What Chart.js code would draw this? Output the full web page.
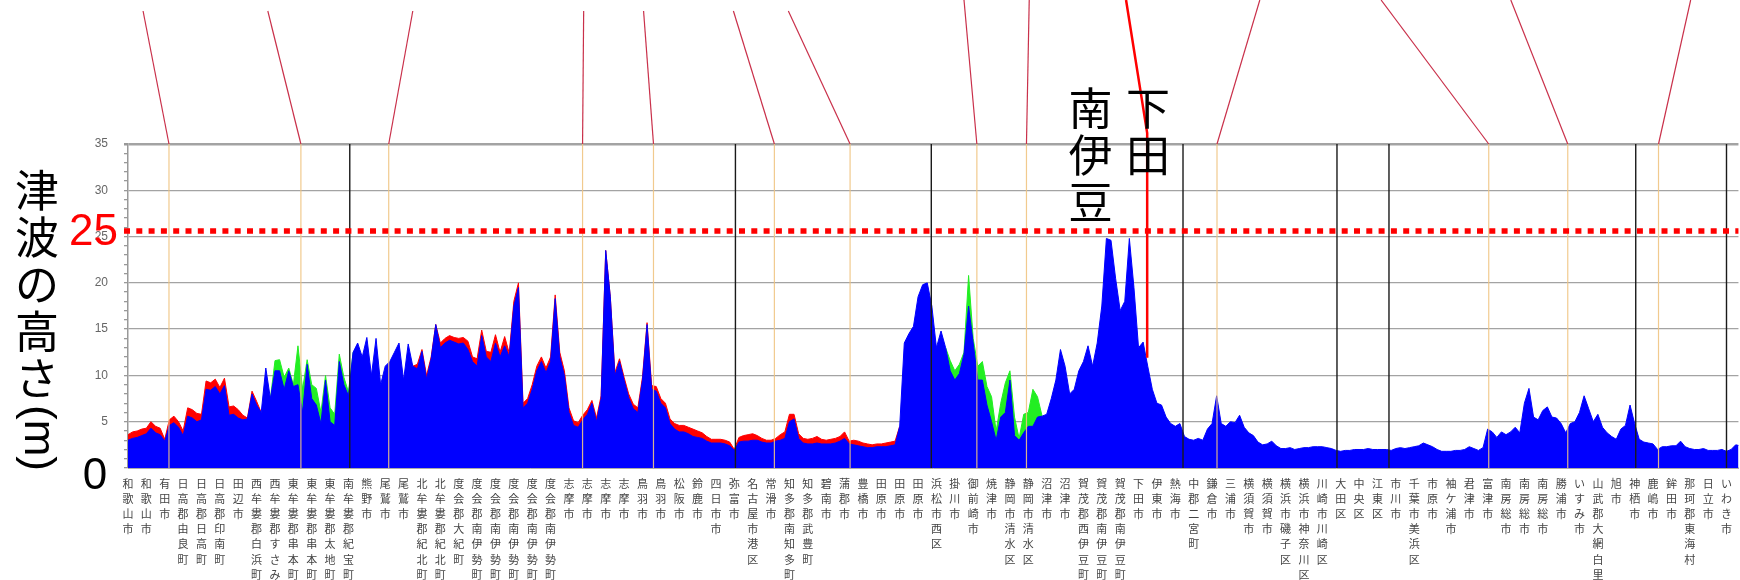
<!DOCTYPE html>
<html>
<head>
<meta charset="utf-8">
<script src="https://cdn.jsdelivr.net/npm/chart.js@4.4.1/dist/chart.umd.min.js"></script>
<style>
  html, body { margin: 0; padding: 0; background: #fff; overflow: hidden; }
  #wrap { position: relative; width: 1740px; height: 580px; }
</style>
</head>
<body>
<div id="wrap"><canvas id="chart"></canvas></div>
<script>
// place names along the coast, one tick each
var placeNames = [
  '和歌山市', '和歌山市', '有田市', '日高郡由良町', '日高郡日高町', '日高郡印南町', '田辺市',
  '西牟婁郡白浜町', '西牟婁郡すさみ町', '東牟婁郡串本町', '東牟婁郡串本町', '東牟婁郡太地町',
  '南牟婁郡紀宝町', '熊野市', '尾鷲市', '尾鷲市', '北牟婁郡紀北町', '北牟婁郡紀北町', '度会郡大紀町',
  '度会郡南伊勢町', '度会郡南伊勢町', '度会郡南伊勢町', '度会郡南伊勢町', '度会郡南伊勢町',
  '志摩市', '志摩市', '志摩市', '志摩市', '鳥羽市', '鳥羽市', '松阪市', '鈴鹿市', '四日市市', '弥富市',
  '名古屋市港区', '常滑市', '知多郡南知多町', '知多郡武豊町', '碧南市', '蒲郡市', '豊橋市',
  '田原市', '田原市', '田原市', '浜松市西区', '掛川市', '御前崎市', '焼津市', '静岡市清水区',
  '静岡市清水区', '沼津市', '沼津市', '賀茂郡西伊豆町', '賀茂郡南伊豆町', '賀茂郡南伊豆町',
  '下田市', '伊東市', '熱海市', '中郡二宮町', '鎌倉市', '三浦市', '横須賀市', '横須賀市',
  '横浜市磯子区', '横浜市神奈川区', '川崎市川崎区', '大田区', '中央区', '江東区', '市川市',
  '千葉市美浜区', '市原市', '袖ケ浦市', '君津市', '富津市', '南房総市', '南房総市', '南房総市',
  '勝浦市', 'いすみ市', '山武郡大網白里町', '旭市', '神栖市', '鹿嶋市', '鉾田市', '那珂郡東海村',
  '日立市', 'いわき市'
];

var samplesPerPlace = 4;

// tsunami height (m), 4 readings per place interval
var blueHeights = [
  3.0, 3.2, 3.3, 3.5, 3.7, 4.3, 3.8, 3.6, 2.9, 4.6,
  4.9, 4.4, 3.5, 5.6, 5.4, 5.0, 5.2, 8.5, 8.4, 8.8,
  8.0, 8.9, 5.7, 5.8, 5.4, 5.2, 5.3, 8.0, 6.8, 6.0,
  10.8, 7.5, 10.5, 10.5, 8.5, 10.5, 8.8, 9.0, 6.0, 11.2,
  7.5, 6.8, 4.8, 9.5, 5.0, 4.6, 11.5, 9.0, 7.8, 12.5,
  13.5, 12.0, 14.1, 10.0, 14.0, 9.0, 11.0, 11.5, 12.5, 13.5,
  9.5, 13.4, 11.0, 10.7, 12.6, 9.6, 11.8, 15.5, 13.0, 13.5,
  13.8, 13.6, 13.4, 13.5, 12.8, 11.5, 11.0, 14.3, 12.0, 11.5,
  13.5, 12.0, 13.2, 12.0, 17.5, 19.5, 6.5, 7.0, 8.5, 10.5,
  11.5, 10.3, 11.5, 18.3, 12.0, 10.0, 6.0, 4.6, 4.4, 5.2,
  5.8, 7.0, 5.0, 7.5, 23.5, 18.5, 10.0, 11.5, 9.5, 7.6,
  6.4, 6.0, 9.5, 15.5, 8.5, 8.3, 7.0, 6.5, 4.8, 4.2,
  3.9, 3.9, 3.7, 3.4, 3.3, 3.2, 2.9, 2.7, 2.7, 2.7,
  2.6, 2.4, 1.9, 2.8, 2.9, 2.9, 3.0, 3.0, 2.8, 2.7,
  2.7, 2.9, 3.0, 3.2, 5.0, 5.3, 3.2, 2.7, 2.6, 2.6,
  2.7, 2.6, 2.6, 2.6, 2.7, 2.9, 3.2, 2.6, 2.5, 2.4,
  2.3, 2.2, 2.2, 2.3, 2.3, 2.3, 2.4, 2.5, 4.5, 13.5,
  14.5, 15.3, 18.5, 19.8, 20.0, 17.5, 13.0, 14.8, 13.0, 10.5,
  9.5, 10.2, 12.3, 17.5, 13.5, 9.5, 9.5, 6.8, 5.0, 3.0,
  5.5, 6.0, 9.5, 3.5, 3.0, 3.8, 4.5, 4.5, 5.5, 5.6,
  5.8, 7.5, 9.5, 12.8, 11.0, 8.0, 8.5, 10.5, 11.5, 13.2,
  11.0, 13.5, 17.5, 24.8, 24.6, 20.5, 17.0, 18.0, 24.8, 19.5,
  13.0, 13.6, 11.0, 8.5, 7.0, 6.8, 5.5, 4.8, 4.5, 4.8,
  3.4, 3.1, 3.0, 3.2, 3.0, 4.2, 4.8, 7.8, 4.8, 4.5,
  5.0, 4.9, 5.7, 4.4, 3.8, 3.5, 2.8, 2.5, 2.6, 2.9,
  2.4, 2.1, 2.1, 2.2, 2.0, 2.1, 2.2, 2.2, 2.3, 2.3,
  2.3, 2.2, 2.1, 1.9, 1.8, 1.9, 1.9, 2.0, 2.0, 2.0,
  2.1, 2.0, 2.0, 2.0, 2.0, 1.9, 2.1, 2.2, 2.1, 2.2,
  2.3, 2.4, 2.7, 2.5, 2.3, 2.0, 1.8, 1.8, 1.8, 1.9,
  1.9, 2.0, 2.3, 2.1, 1.9, 2.2, 4.2, 3.9, 3.3, 3.9,
  3.6, 3.9, 4.4, 3.8, 7.0, 8.6, 5.5, 5.2, 6.2, 6.6,
  5.5, 5.4, 4.8, 3.8, 4.8, 5.0, 6.0, 7.8, 6.4, 5.0,
  5.8, 4.4, 3.8, 3.4, 3.1, 4.2, 4.6, 6.8, 4.8, 3.1,
  2.8, 2.7, 2.6, 2.0, 2.3, 2.3, 2.4, 2.4, 2.9, 2.3,
  2.1, 2.0, 2.0, 2.1, 1.9, 1.9, 1.9, 2.0, 1.8, 2.0,
  2.5, 2.4
];

// red series, only where it shows above the blue one
var redStartA = 0;
var redHeightsA = [
  3.6, 3.9, 4.0, 4.2, 4.3, 5.0, 4.5, 4.3, 3.1, 5.2,
  5.6, 5.0, 4.0, 6.5, 6.3, 5.9, 5.8, 9.4, 9.2, 9.6,
  8.7, 9.7, 6.6, 6.7, 6.3, 5.7, 5.4, 8.3, 7.2, 6.0
];
var redStartB = 62;
var redHeightsB = [
  11.0, 11.2, 12.8, 10.0, 12.0, 15.5, 13.5, 14.0,
  14.3, 14.1, 14.0, 14.1, 13.7, 12.0, 11.8, 14.9, 12.6, 12.5,
  14.4, 12.5, 14.2, 12.4, 18.0, 20.0, 7.0, 7.5, 9.0, 11.0,
  12.0, 10.8, 12.0, 18.7, 12.5, 10.5, 6.5, 5.1, 4.9, 5.7,
  6.3, 7.3, 5.4, 7.8, 23.5, 18.5, 10.3, 11.8, 9.8, 8.0,
  6.9, 6.5, 9.8, 15.7, 8.9, 8.8, 7.5, 7.0, 5.3, 4.8,
  4.6, 4.6, 4.4, 4.2, 4.0, 3.8, 3.4, 3.1, 3.1, 3.1,
  3.0, 2.8, 2.0, 3.3, 3.5, 3.6, 3.7, 3.5, 3.2, 3.0,
  3.0, 3.2, 3.6, 3.9, 5.8, 5.8, 3.7, 3.2, 3.1, 3.2,
  3.4, 3.1, 3.0, 3.1, 3.2, 3.4, 3.9, 2.9, 3.0, 2.9,
  2.7, 2.6, 2.5, 2.6, 2.6, 2.7, 2.8, 2.9, 4.5
];

// green series, same idea
var greenStartA = 31;
var greenHeightsA = [7.5, 11.6, 11.7, 9.8, 10.8, 9.0, 13.2, 8.5, 11.7, 9.0, 8.6, 6.0, 10.0, 6.5, 5.8, 12.3, 9.8, 8.2, 12.5];
var greenStartB = 178;
var greenHeightsB = [13.0, 11.6, 10.5, 11.2, 12.5, 20.8, 14.0, 11.0, 11.5, 8.8, 7.7, 4.0, 7.0, 9.2, 10.5, 5.5, 3.2, 5.8, 6.0, 8.5, 7.7, 5.6];

// black lines between prefectures (place-index units)
var prefBorders = [12.07, 33.06, 43.72, 57.42, 65.8, 68.63, 82.06, 87.0];
// orange guides and the map lines that lead to them
var guideBottoms = [2.23, 9.41, 14.19, 24.74, 28.6, 35.18, 39.3, 46.2, 48.9, 59.27, 74.06, 78.36, 83.3];
var guideTops = [0.82, 7.61, 15.5, 24.8, 28.06, 32.95, 35.94, 45.5, 49.05, 61.6, 68.2, 75.26, 85.05];
var shimodaGuide = { bottom: 55.47, top: 54.32, height: 11.9 };
var dottedLevel = 25.6;

function toPoints(start, arr) {
  return arr.map(function (v, k) {
    return { x: (start + k) / samplesPerPlace, y: v };
  });
}

function areaSet(data, color, order) {
  return {
    data: data,
    borderColor: color,
    backgroundColor: color,
    borderWidth: 1,
    pointRadius: 0,
    tension: 0,
    fill: 'origin',
    order: order
  };
}

var cjk = '"Noto Sans CJK JP", "Noto Sans", sans-serif';
var latin = '"Liberation Sans", Arial, sans-serif';

var overlay = {
  id: 'overlay',
  afterDatasetsDraw: function (chart) {
    var ctx = chart.ctx;
    var a = chart.chartArea;
    var x = chart.scales.x;
    var y = chart.scales.y;
    ctx.save();

    ctx.strokeStyle = 'rgba(240, 196, 130, 0.9)';
    ctx.lineWidth = 1.2;
    guideBottoms.forEach(function (v) {
      var px = x.getPixelForValue(v);
      ctx.beginPath();
      ctx.moveTo(px, a.top);
      ctx.lineTo(px, a.bottom);
      ctx.stroke();
    });

    ctx.strokeStyle = '#1a1a1a';
    ctx.lineWidth = 1.4;
    prefBorders.forEach(function (v) {
      var px = x.getPixelForValue(v);
      ctx.beginPath();
      ctx.moveTo(px, a.top);
      ctx.lineTo(px, a.bottom);
      ctx.stroke();
    });

    // map connectors above the plot
    ctx.strokeStyle = '#c9304a';
    ctx.lineWidth = 1.2;
    guideBottoms.forEach(function (v, k) {
      ctx.beginPath();
      ctx.moveTo(x.getPixelForValue(guideTops[k]), k < 7 ? 11 : 0);
      ctx.lineTo(x.getPixelForValue(v), a.top);
      ctx.stroke();
    });

    // dotted 25 m line
    var ly = y.getPixelForValue(dottedLevel);
    ctx.strokeStyle = '#ff0000';
    ctx.lineWidth = 5.5;
    ctx.setLineDash([6, 6.3]);
    ctx.beginPath();
    ctx.moveTo(a.left - 4, ly);
    ctx.lineTo(a.right, ly);
    ctx.stroke();
    ctx.setLineDash([]);

    // Shimoda marker
    var sx = x.getPixelForValue(shimodaGuide.bottom);
    ctx.strokeStyle = '#ff0000';
    ctx.lineWidth = 2.5;
    ctx.beginPath();
    ctx.moveTo(x.getPixelForValue(shimodaGuide.top), 0);
    ctx.lineTo(sx, a.top - 11);
    ctx.lineTo(sx, y.getPixelForValue(shimodaGuide.height));
    ctx.stroke();

    // big labels
    ctx.fillStyle = '#000';
    ctx.textAlign = 'center';
    ctx.textBaseline = 'middle';
    ctx.font = '44px ' + cjk;
    var step = 47;
    ['南', '伊', '豆'].forEach(function (c, k) {
      ctx.fillText(c, x.getPixelForValue(52.39), a.top - 36 + k * step);
    });
    ['下', '田'].forEach(function (c, k) {
      ctx.fillText(c, x.getPixelForValue(55.52), a.top - 36 + k * step);
    });

    // axis title, written top to bottom
    ['津', '波', 'の', '高', 'さ'].forEach(function (c, k) {
      ctx.fillText(c, 37, 190 + k * step);
    });
    ctx.save();
    ctx.translate(37, 438);
    ctx.rotate(Math.PI / 2);
    ctx.font = '44px ' + latin;
    ctx.fillText('(m)', 0, 0);
    ctx.restore();

    ctx.font = '44px ' + latin;
    ctx.fillStyle = '#000';
    ctx.fillText('0', 95, y.getPixelForValue(0) + 9);
    ctx.fillStyle = '#ff0000';
    ctx.textAlign = 'right';
    ctx.fillText('25', 118, ly + 2);

    ctx.restore();
  }
};

new Chart(document.getElementById('chart'), {
  type: 'line',
  data: {
    datasets: [
      areaSet(toPoints(0, blueHeights), '#0000ff', 0),
      areaSet(toPoints(redStartA, redHeightsA), '#ff0000', 1),
      areaSet(toPoints(redStartB, redHeightsB), '#ff0000', 1),
      areaSet(toPoints(greenStartA, greenHeightsA), '#22ee22', 1),
      areaSet(toPoints(greenStartB, greenHeightsB), '#22ee22', 1)
    ]
  },
  options: {
    responsive: true,
    maintainAspectRatio: false,
    animation: false,
    parsing: true,
    layout: { padding: { top: 144, left: 0, right: 0, bottom: 0 } },
    plugins: { legend: { display: false }, tooltip: { enabled: false } },
    scales: {
      x: {
        type: 'linear',
        min: 0,
        max: 87.65,
        afterBuildTicks: function (scale) {
          scale.ticks = placeNames.map(function (_, i) { return { value: i }; });
        },
        afterFit: function (scale) { scale.height = 112; },
        grid: { display: false, drawTicks: false },
        border: { display: true, color: '#aaa' },
        ticks: {
          autoSkip: false,
          maxRotation: 0,
          minRotation: 0,
          padding: 8,
          color: '#444',
          font: { family: cjk, size: 11, lineHeight: 1.38 },
          callback: function (v) {
            return placeNames[v] ? Array.from(placeNames[v]) : '';
          }
        }
      },
      y: {
        min: 0,
        max: 35,
        afterFit: function (scale) { scale.width = 128; },
        grid: {
          color: function (c) { return c.tick.value % 5 === 0 ? '#a3a3a3' : 'rgba(0,0,0,0)'; },
          lineWidth: function (c) { return c.tick.value === 35 ? 2.5 : 1.3; },
          tickColor: '#999',
          tickLength: 4
        },
        border: { color: '#999', width: 1.5 },
        ticks: {
          stepSize: 1,
          autoSkip: false,
          maxTicksLimit: 60,
          padding: 16,
          color: '#666',
          font: { family: latin, size: 12 },
          callback: function (v) { return v % 5 === 0 && v > 0 ? String(v) : ''; }
        }
      }
    }
  },
  plugins: [overlay]
});
</script>
</body>
</html>
